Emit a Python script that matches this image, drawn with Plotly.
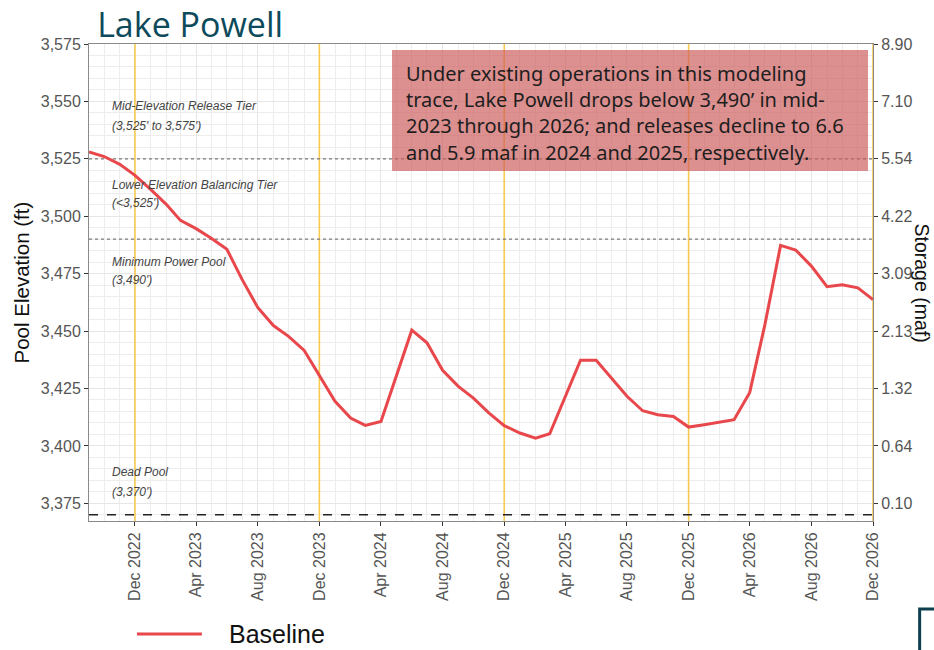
import pandas as pd
import plotly.graph_objects as go

# monthly pool elevation, Sep 2022 .. Dec 2026
months = pd.date_range("2022-09-01", periods=52, freq="MS")
baseline_elev = [
    3528.0, 3526.0, 3522.6, 3517.8, 3511.7, 3505.2, 3498.2, 3494.6, 3490.4, 3485.6,
    3472.5, 3460.3, 3452.4, 3447.7, 3441.6, 3430.6, 3419.4, 3412.1, 3408.9, 3410.6,
    3430.3, 3450.4, 3444.9, 3432.9, 3425.9, 3420.8, 3414.3, 3408.8, 3405.6, 3403.4,
    3405.3, 3421.6, 3437.3, 3437.3, 3429.8, 3421.6, 3415.3, 3413.6, 3412.8, 3408.2,
    3409.2, 3410.2, 3411.4, 3423.3, 3452.8, 3487.3, 3485.3, 3478.3, 3469.3, 3470.2,
    3468.8, 3463.7,
]

elev_ticks = [3375, 3400, 3425, 3450, 3475, 3500, 3525, 3550, 3575]
elev_labels = ["3,375", "3,400", "3,425", "3,450", "3,475", "3,500", "3,525", "3,550", "3,575"]
storage_labels = ["0.10", "0.64", "1.32", "2.13", "3.09", "4.22", "5.54", "7.10", "8.90"]

december_lines = ["2022-12-01", "2023-12-01", "2024-12-01", "2025-12-01", "2026-12-01"]

tier_levels = [3525, 3490]
dead_pool = 3370

tier_labels = [
    ("Mid-Elevation Release Tier", 3547.9),
    ("(3,525' to 3,575')", 3539.2),
    ("Lower Elevation Balancing Tier", 3513.4),
    ("(<3,525')", 3505.6),
    ("Minimum Power Pool", 3480.2),
    ("(3,490')", 3472.4),
    ("Dead Pool", 3388.5),
    ("(3,370')", 3379.8),
]

note_lines = [
    "Under existing operations in this modeling",
    "trace, Lake Powell drops below 3,490\u2019 in mid-",
    "2023 through 2026; and releases decline to 6.6",
    "and 5.9 maf in 2024 and 2025, respectively.",
]

Y_RANGE = [3367.3, 3575]
X_RANGE = ["2022-09-01", "2026-12-01"]
TICK_FONT = dict(family="Liberation Sans, Arial", size=16, color="#555555")

fig = go.Figure()

# reference lines as traces so they sit above the grid but under the series
for d in december_lines:
    fig.add_trace(go.Scatter(x=[d, d], y=Y_RANGE, mode="lines", showlegend=False, hoverinfo="skip",
                             line=dict(color="#f8ca50", width=1.6)))
for lvl in tier_levels:
    fig.add_trace(go.Scatter(x=X_RANGE, y=[lvl, lvl], mode="lines", showlegend=False, hoverinfo="skip",
                             line=dict(color="#7a7a7a", width=1.2, dash="dot")))
fig.add_trace(go.Scatter(x=X_RANGE, y=[dead_pool, dead_pool], mode="lines", showlegend=False,
                         hoverinfo="skip", line=dict(color="#222222", width=1.4, dash="dash")))

fig.add_trace(go.Scatter(
    x=months, y=baseline_elev, mode="lines", name="Baseline",
    line=dict(color="#e8474b", width=3), showlegend=False,
))
# invisible trace so the storage axis gets drawn
fig.add_trace(go.Scatter(
    x=months, y=baseline_elev, mode="lines", yaxis="y2",
    line=dict(color="rgba(0,0,0,0)"), showlegend=False, hoverinfo="skip",
))

for text, yv in tier_labels:
    fig.add_annotation(x=0.027, xref="paper", y=yv, yref="y", text="<i>" + text + "</i>",
                       showarrow=False, xanchor="left", yanchor="middle",
                       font=dict(family="Liberation Sans, Arial", size=12, color="#444444"))

# note box
fig.add_shape(type="rect", xref="paper", yref="paper", x0=0.3865, x1=0.9936, y0=0.7338, y1=0.9874,
              fillcolor="rgba(205,92,92,0.68)", line=dict(width=0))
note_y = [0.9392, 0.8826, 0.8281, 0.7715]
for text, yv in zip(note_lines, note_y):
    fig.add_annotation(x=0.4015, xref="paper", y=yv, yref="paper", text=text, showarrow=False,
                       xanchor="left", yanchor="middle",
                       font=dict(family="Noto Sans, Open Sans", size=20, color="#1e1e1e"))

# axis titles
fig.add_annotation(x=-0.0855, xref="paper", y=0.5, yref="paper", text="Pool Elevation (ft)",
                   showarrow=False, textangle=-90, xanchor="center", yanchor="middle",
                   font=dict(family="Liberation Sans, Arial", size=20.5, color="#111111"))
fig.add_annotation(x=1.0625, xref="paper", y=0.5, yref="paper", text="Storage (maf)",
                   showarrow=False, textangle=90, xanchor="center", yanchor="middle",
                   font=dict(family="Liberation Sans, Arial", size=19.5, color="#111111"))

# legend drawn by hand
fig.add_shape(type="line", xref="paper", yref="paper", x0=0.0612, x1=0.144, y0=-0.2369, y1=-0.2369,
              line=dict(color="#e8474b", width=3))
fig.add_annotation(x=0.176, xref="paper", y=-0.2369, yref="paper", text="Baseline", showarrow=False,
                   xanchor="left", yanchor="middle",
                   font=dict(family="Liberation Sans, Arial", size=25, color="#111111"))

# slide corner fragment
fig.add_shape(type="rect", xref="paper", yref="paper", x0=1.0595, x1=1.12, y0=-0.28, y1=-0.1845,
              line=dict(color="#0d3f4f", width=3), fillcolor="rgba(0,0,0,0)")

fig.update_layout(
    width=934, height=650, autosize=False,
    margin=dict(l=89, r=61, t=44, b=129),
    paper_bgcolor="white", plot_bgcolor="white",
    title=dict(text="Lake Powell", x=0.104, xanchor="left", y=0.962, yanchor="middle",
               font=dict(family="Open Sans, Noto Sans", size=34, color="#0d4a5b")),
    xaxis=dict(
        type="date", range=X_RANGE,
        tick0="2022-12-01", dtick="M4", tickformat="%b %Y", tickangle=-90,
        ticks="outside", ticklen=4, tickcolor="#333333", tickfont=TICK_FONT,
        showgrid=True, gridcolor="#e6e6e6", gridwidth=1,
        minor=dict(dtick="M1", showgrid=True, gridcolor="#ededed", gridwidth=1),
        showline=True, linecolor="#8a8a8a", linewidth=1, mirror=True, zeroline=False,
    ),
    yaxis=dict(
        range=Y_RANGE, tickvals=elev_ticks, ticktext=elev_labels,
        ticks="outside", ticklen=4, tickcolor="#333333", tickfont=TICK_FONT,
        showgrid=True, gridcolor="#e6e6e6", gridwidth=1,
        minor=dict(dtick=5, tick0=3375, showgrid=True, gridcolor="#ededed", gridwidth=1),
        showline=True, linecolor="#8a8a8a", linewidth=1, mirror=True, zeroline=False,
    ),
    yaxis2=dict(
        range=Y_RANGE, overlaying="y", side="right",
        tickvals=elev_ticks, ticktext=storage_labels,
        ticks="outside", ticklen=4, tickcolor="#333333", tickfont=TICK_FONT,
        showgrid=False, zeroline=False, showline=False,
    ),
    showlegend=False,
)

# drop the default 8px page margin so the figure fills the window exactly
fig.write_html("out.html", config={"displayModeBar": False},
               post_script="document.body.style.margin='0';")
